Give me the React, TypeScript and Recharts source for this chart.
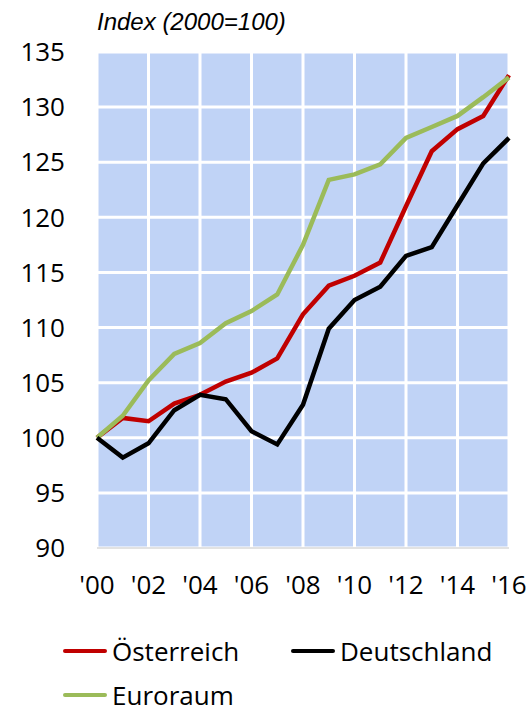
import { CartesianGrid, Line, LineChart, XAxis, YAxis } from "recharts";

const years = [
  2000, 2001, 2002, 2003, 2004, 2005, 2006, 2007, 2008, 2009, 2010, 2011, 2012,
  2013, 2014, 2015, 2016,
];
const oesterreich = [
  100, 101.8, 101.5, 103.1, 103.9, 105.1, 105.9, 107.2, 111.2, 113.8, 114.7,
  115.9, 121.0, 126.0, 128.0, 129.2, 132.9,
];
const deutschland = [
  100, 98.2, 99.5, 102.5, 103.9, 103.5, 100.6, 99.4, 103.0, 109.9, 112.5, 113.7,
  116.5, 117.3, 121.1, 124.9, 127.2,
];
const euroraum = [
  100, 102.0, 105.2, 107.6, 108.6, 110.4, 111.5, 113.0, 117.5, 123.4, 123.9,
  124.8, 127.2, 128.2, 129.2, 130.9, 132.7,
];
const xTicks = [2000, 2002, 2004, 2006, 2008, 2010, 2012, 2014, 2016];
const yTicks = [90, 95, 100, 105, 110, 115, 120, 125, 130, 135];

const series = [
  { key: "oe", name: "Österreich", color: "#c00000" },
  { key: "de", name: "Deutschland", color: "#000000" },
  { key: "eu", name: "Euroraum", color: "#9bbb59" },
];

const data = years.map((year, i) => ({
  year,
  oe: oesterreich[i],
  de: deutschland[i],
  eu: euroraum[i],
}));

const tickFont = { fontFamily: "Open Sans", fontSize: 26, fill: "#000" };

function LegendItem({ name, color }: { name: string; color: string }) {
  return (
    <div style={{ display: "flex", alignItems: "center" }}>
      <div
        style={{
          width: 44,
          height: 4,
          borderRadius: 2,
          background: color,
          marginRight: 5,
        }}
      />
      <span>{name}</span>
    </div>
  );
}

export default function App() {
  return (
    <div
      style={{
        position: "absolute",
        left: 0,
        top: 0,
        width: 531,
        height: 714,
        background: "#fff",
        overflow: "hidden",
      }}
    >
      <div
        style={{
          position: "absolute",
          left: 97,
          top: 7,
          fontFamily: "Liberation Sans",
          fontStyle: "italic",
          fontSize: 24,
          letterSpacing: 0,
          lineHeight: "30px",
        }}
      >
        Index (2000=100)
      </div>
      <LineChart
        width={531}
        height={714}
        data={data}
        margin={{ top: 52, right: 22, bottom: 126, left: 0 }}
      >
        <CartesianGrid fill="#c0d3f6" stroke="#ffffff" strokeWidth={3} />
        <XAxis
          dataKey="year"
          type="number"
          domain={[2000, 2016]}
          ticks={xTicks}
          tickFormatter={(v: number) => "'" + String(v).slice(2)}
          tickLine={false}
          tickSize={0}
          tickMargin={28}
          height={40}
          axisLine={{ stroke: "#d9d9d9", strokeWidth: 1.5 }}
          tick={tickFont}
          interval={0}
        />
        <YAxis
          type="number"
          domain={[90, 135]}
          ticks={yTicks}
          width={97}
          tickLine={false}
          tickSize={0}
          tickMargin={32}
          axisLine={false}
          tick={tickFont}
          interval={0}
        />
        <Line
          dataKey="oe"
          stroke="#c00000"
          strokeWidth={4.5}
          dot={false}
          isAnimationActive={false}
        />
        <Line
          dataKey="eu"
          stroke="#9bbb59"
          strokeWidth={4.5}
          dot={false}
          isAnimationActive={false}
        />
        <Line
          dataKey="de"
          stroke="#000000"
          strokeWidth={4.5}
          dot={false}
          isAnimationActive={false}
        />
      </LineChart>
      <div
        style={{
          position: "absolute",
          left: 63,
          top: 638,
          width: 468,
          display: "flex",
          flexWrap: "wrap",
          rowGap: 18,
          fontFamily: "Open Sans",
          fontSize: 26,
          lineHeight: "26px",
        }}
      >
        <div style={{ width: 228 }}>
          <LegendItem name={series[0].name} color={series[0].color} />
        </div>
        <div>
          <LegendItem name={series[1].name} color={series[1].color} />
        </div>
        <div style={{ width: 228 }}>
          <LegendItem name={series[2].name} color={series[2].color} />
        </div>
      </div>
    </div>
  );
}
